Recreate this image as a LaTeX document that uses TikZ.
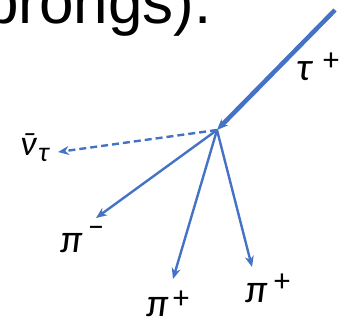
\documentclass[tikz,border=0pt]{standalone}
\usepackage{fontspec}
\setmainfont{Liberation Sans}
\newfontfamily\lblfont{Carlito}
\usetikzlibrary{arrows.meta}
\definecolor{pblue}{RGB}{68,114,196}
\tikzset{
  track/.style={draw=pblue, line width=2.4pt, -{Stealth[length=11pt,width=9pt]}},
  heavytrack/.style={draw=pblue, line width=4.5pt, -{Stealth[length=11pt,width=9pt]}},
  nutrack/.style={track, dash pattern=on 7pt off 4pt},
  lbl/.style={inner sep=0pt, anchor=base west, font=\lblfont\itshape\fontsize{40}{42}\selectfont},
  sup/.style={inner sep=0pt, anchor=center, font=\lblfont\fontsize{32}{34}\selectfont}
}
\begin{document}
\begin{tikzpicture}[x=1pt,y=-1pt]
\useasboundingbox (0,0) rectangle (363,322);
\begin{scope}
\clip (0,0) rectangle (363,322);
\node[inner sep=0pt, anchor=base west, font=\fontsize{62}{64}\selectfont] (head) at (-16,23) {prongs).};
\end{scope}
\coordinate (tstart) at (335,10);
\coordinate (v) at (217,130);
\coordinate (nutip) at (58,152);
\coordinate (pimtip) at (96,218);
\coordinate (pipatip) at (173,279);
\coordinate (pipbtip) at (252,267);
\draw[heavytrack] (tstart) -- (v);
\draw[nutrack] (v) -- (nutip);
\draw[track] (v) -- (pimtip);
\draw[track] (v) -- (pipatip);
\draw[track] (v) -- (pipbtip);
% labels
\node[lbl] (tau) at (296,80) {τ};
\node[sup] (taup) at (331,62) {+};
\node[lbl, font=\lblfont\itshape\fontsize{36}{38}\selectfont] (nu) at (20,155) {\ooalign{ν\cr\hidewidth\raisebox{-0.05em}{¯}\hidewidth\cr}};
\node[lbl, font=\lblfont\itshape\fontsize{28}{30}\selectfont] (nut) at (38,161) {τ};
\node[lbl] (pim) at (60,252) {π};
\node[sup] (pimm) at (96,232) {−};
\node[lbl] (pipa) at (146,316) {π};
\node[sup] (pipap) at (181,300) {+};
\node[lbl] (pipb) at (245,302) {π};
\node[sup] (pipbp) at (282,283) {+};
\end{tikzpicture}
\end{document}
